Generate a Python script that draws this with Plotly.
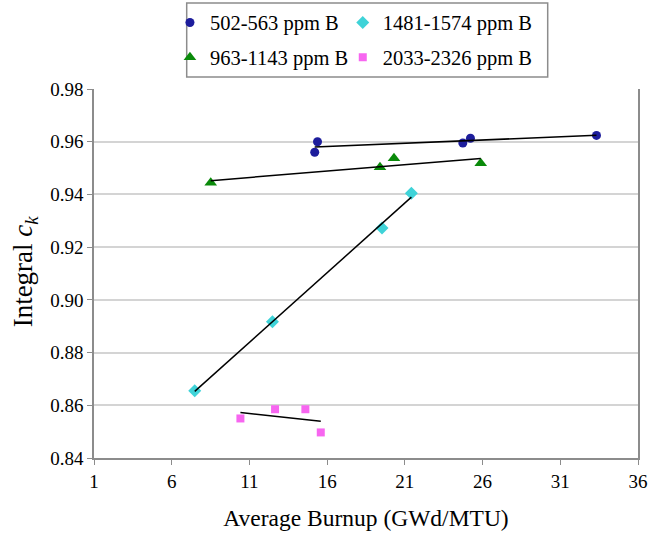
import numpy as np
import plotly.graph_objects as go

# ---- data ----
s1_name = "502-563 ppm B"
s1_x = [15.2, 15.38, 24.73, 25.22, 33.33]
s1_y = [0.956, 0.960, 0.9595, 0.9613, 0.9624]

s2_name = "963-1143 ppm B"
s2_x = [8.51, 19.4, 20.3, 25.88]
s2_y = [0.9444, 0.9503, 0.9537, 0.9518]

s3_name = "1481-1574 ppm B"
s3_x = [7.48, 12.48, 19.53, 21.42]
s3_y = [0.8655, 0.8917, 0.9273, 0.9404]

s4_name = "2033-2326 ppm B"
s4_x = [10.42, 12.65, 14.6, 15.59]
s4_y = [0.855, 0.8585, 0.8585, 0.8497]

x_ticks = [1, 6, 11, 16, 21, 26, 31, 36]
y_ticks = [0.84, 0.86, 0.88, 0.90, 0.92, 0.94, 0.96, 0.98]

x_title = "Average Burnup (GWd/MTU)"
y_title = "Integral <i>c<sub>k</sub></i>"

FONT = "Times New Roman, Liberation Serif, serif"

series = [
    (s1_name, s1_x, s1_y, "circle", "#1d1d9c", 9, "legend"),
    (s2_name, s2_x, s2_y, "triangle-up", "#0a8a0a", 11, "legend"),
    (s3_name, s3_x, s3_y, "diamond", "#3fd3d8", 10, "legend2"),
    (s4_name, s4_x, s4_y, "square", "#f766f0", 8, "legend2"),
]

fig = go.Figure()

# markers
for name, xs, ys, sym, col, size, leg in series:
    fig.add_trace(go.Scatter(
        x=xs, y=ys, mode="markers", name=name, legend=leg,
        legendgroup=name,
        marker=dict(symbol=sym, color=col, size=size, line=dict(width=0)),
    ))

# linear trendlines computed from the data
for name, xs, ys, sym, col, size, leg in series:
    k, b = np.polyfit(xs, ys, 1)
    xl = np.array([min(xs), max(xs)])
    fig.add_trace(go.Scatter(
        x=xl, y=k * xl + b, mode="lines", showlegend=False,
        line=dict(color="black", width=1.5), hoverinfo="skip",
    ))

legend_common = dict(
    orientation="v", xanchor="left", yanchor="top",
    bgcolor="rgba(0,0,0,0)", borderwidth=0,
    font=dict(family=FONT, size=20.5, color="black"),
    tracegroupgap=5, itemwidth=30,
)

fig.update_layout(
    width=649, height=542,
    margin=dict(l=94, r=11, t=89, b=84, autoexpand=False),
    paper_bgcolor="white", plot_bgcolor="white",
    font=dict(family=FONT, color="black"),
    legend=dict(x=0.1396, y=1.234, **legend_common),
    legend2=dict(x=0.4573, y=1.234, **legend_common),
    xaxis=dict(
        range=[1, 36], tickvals=x_ticks, ticktext=[str(v) for v in x_ticks],
        showgrid=False, zeroline=False,
        showline=True, linecolor="#8c8c8c", linewidth=1.5,
        ticks="outside", ticklen=5, tickcolor="#8c8c8c", tickwidth=1,
        tickfont=dict(family=FONT, size=19, color="black"),
        title=dict(text=x_title, standoff=19,
                   font=dict(family=FONT, size=23.5, color="black")),
    ),
    yaxis=dict(
        range=[0.84, 0.98], tickvals=y_ticks, tickformat=".2f",
        showgrid=True, gridcolor="#d4d4d4", gridwidth=1.5, zeroline=False,
        showline=True, linecolor="#8c8c8c", linewidth=1.5, mirror=True,
        ticks="outside", ticklen=5, tickcolor="#8c8c8c", tickwidth=1,
        tickfont=dict(family=FONT, size=19, color="black"),
    ),
    annotations=[dict(
        text=y_title, textangle=-90, xref="paper", yref="paper",
        x=(25 - 94.3) / 544, y=0.505, xanchor="center", yanchor="middle",
        showarrow=False, font=dict(family=FONT, size=27, color="black"),
    )],
    shapes=[dict(
        type="rect", xref="paper", yref="paper",
        x0=(187 - 94.3) / 544, x1=(548 - 94.3) / 544,
        y0=(457.7 - 77) / 368.7, y1=(457.7 - 3) / 368.7,
        line=dict(color="#8c8c8c", width=1.5), fillcolor="rgba(0,0,0,0)",
        layer="above",
    )],
)

fig.write_html("out.html")
